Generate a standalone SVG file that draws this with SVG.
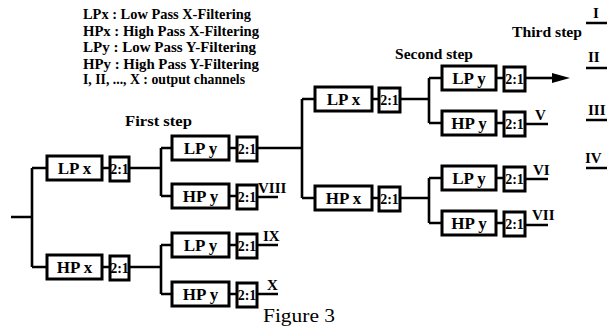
<svg xmlns="http://www.w3.org/2000/svg" width="607" height="330" viewBox="0 0 607 330">
<style>
.box{fill:#fff;stroke:#000;stroke-width:3}
.w{fill:none;stroke:#000;stroke-width:2.6}
.t{font-family:"Liberation Serif","Times New Roman",serif;font-weight:bold;fill:#000}
.bl{font-size:17px;text-anchor:middle}
.ds{font-size:14px;text-anchor:middle}
.lg{font-size:14.5px}
.hd{font-size:14px}
.out{font-size:15px}
</style>
<rect width="607" height="330" fill="#fff"/>
<g id="legend" class="t lg">
<text x="83" y="19" textLength="168" lengthAdjust="spacingAndGlyphs">LPx : Low Pass X-Filtering</text>
<text x="83" y="35.5" textLength="176" lengthAdjust="spacingAndGlyphs">HPx : High Pass X-Filtering</text>
<text x="83" y="52" textLength="173" lengthAdjust="spacingAndGlyphs">LPy : Low Pass Y-Filtering</text>
<text x="83" y="68.5" textLength="176" lengthAdjust="spacingAndGlyphs">HPy : High Pass Y-Filtering</text>
<text x="83" y="84" textLength="162" lengthAdjust="spacingAndGlyphs">I, II, ..., X : output channels</text>
</g>
<g id="headings" class="t hd">
<text x="125" y="126" textLength="67" lengthAdjust="spacingAndGlyphs">First step</text>
<text x="395" y="59" textLength="78" lengthAdjust="spacingAndGlyphs">Second step</text>
<text x="512" y="37" textLength="70" lengthAdjust="spacingAndGlyphs">Third step</text>
</g>
<g id="connectors" class="w">
<path d="M11,217H32M32,168V267M32,168H47M32,267H47"/>
<path d="M102,168H110M102,267H110"/>
<path d="M129,168H161M161,148V196M161,148H172M161,196H172"/>
<path d="M129,267H161M161,245V294M161,245H172M161,294H172"/>
<path d="M229,148H237M229,196H237M229,245H237M229,294H237"/>
<path d="M257,148H302M302,99V198M302,99H315M302,198H315"/>
<path d="M257,197H278M257,245H278M257,294H278"/>
<path d="M372,99H379M372,198H379"/>
<path d="M400,99H429M429,78V123M429,78H442M429,123H442"/>
<path d="M400,198H429M429,178V223M429,178H442M429,223H442"/>
<path d="M496,78H504M496,123H504M496,178H504M496,223H504"/>
<path d="M525,78H554"/>
<polygon points="552,73 570,78 552,83" fill="#000" stroke="none"/>
<path d="M525,124H548M525,179H548M525,225H548"/>
<path d="M586,23H607M586,68H607M586,120H607M586,168H607"/>
</g>
<g id="lpx0"><rect class="box" x="47" y="156" width="55" height="24"/><text class="t bl" x="74.5" y="174">LP x</text></g>
<g id="ds-lpx0"><rect class="box" x="110" y="157" width="19" height="24"/><text class="t ds" x="119.5" y="174">2:1</text></g>
<g id="hpx0"><rect class="box" x="47" y="255" width="55" height="24"/><text class="t bl" x="74.5" y="273">HP x</text></g>
<g id="ds-hpx0"><rect class="box" x="110" y="256" width="19" height="24"/><text class="t ds" x="119.5" y="273">2:1</text></g>
<g id="lpy1a"><rect class="box" x="172" y="136" width="57" height="24"/><text class="t bl" x="200.5" y="154">LP y</text></g>
<g id="ds-lpy1a"><rect class="box" x="237" y="137" width="20" height="24"/><text class="t ds" x="247" y="154">2:1</text></g>
<g id="hpy1a"><rect class="box" x="172" y="184" width="57" height="24"/><text class="t bl" x="200.5" y="202">HP y</text></g>
<g id="ds-hpy1a"><rect class="box" x="237" y="185" width="20" height="24"/><text class="t ds" x="247" y="202">2:1</text></g>
<g id="lpy1b"><rect class="box" x="172" y="233" width="57" height="24"/><text class="t bl" x="200.5" y="251">LP y</text></g>
<g id="ds-lpy1b"><rect class="box" x="237" y="234" width="20" height="24"/><text class="t ds" x="247" y="251">2:1</text></g>
<g id="hpy1b"><rect class="box" x="172" y="282" width="57" height="24"/><text class="t bl" x="200.5" y="300">HP y</text></g>
<g id="ds-hpy1b"><rect class="box" x="237" y="283" width="20" height="24"/><text class="t ds" x="247" y="300">2:1</text></g>
<g id="lpx2"><rect class="box" x="315" y="87" width="57" height="24"/><text class="t bl" x="343.5" y="105">LP x</text></g>
<g id="ds-lpx2"><rect class="box" x="379" y="88" width="21" height="24"/><text class="t ds" x="389.5" y="105">2:1</text></g>
<g id="hpx2"><rect class="box" x="315" y="186" width="57" height="24"/><text class="t bl" x="343.5" y="204">HP x</text></g>
<g id="ds-hpx2"><rect class="box" x="379" y="187" width="21" height="24"/><text class="t ds" x="389.5" y="204">2:1</text></g>
<g id="lpy3a"><rect class="box" x="442" y="66" width="54" height="24"/><text class="t bl" x="469" y="84">LP y</text></g>
<g id="ds-lpy3a"><rect class="box" x="504" y="67" width="21" height="24"/><text class="t ds" x="514.5" y="84">2:1</text></g>
<g id="hpy3a"><rect class="box" x="442" y="111" width="54" height="24"/><text class="t bl" x="469" y="129">HP y</text></g>
<g id="ds-hpy3a"><rect class="box" x="504" y="112" width="21" height="24"/><text class="t ds" x="514.5" y="129">2:1</text></g>
<g id="lpy3b"><rect class="box" x="442" y="166" width="54" height="24"/><text class="t bl" x="469" y="184">LP y</text></g>
<g id="ds-lpy3b"><rect class="box" x="504" y="167" width="21" height="24"/><text class="t ds" x="514.5" y="184">2:1</text></g>
<g id="hpy3b"><rect class="box" x="442" y="211" width="54" height="24"/><text class="t bl" x="469" y="229">HP y</text></g>
<g id="ds-hpy3b"><rect class="box" x="504" y="212" width="21" height="24"/><text class="t ds" x="514.5" y="229">2:1</text></g>
<g id="outputs" class="t out">
<text x="593" y="18">I</text>
<text x="588" y="62">II</text>
<text x="588" y="115">III</text>
<text x="585" y="163">IV</text>
<text x="535" y="120">V</text>
<text x="533" y="175">VI</text>
<text x="532" y="220">VII</text>
<text x="258" y="193">VIII</text>
<text x="263" y="241">IX</text>
<text x="267" y="290">X</text>
</g>
<text x="263" y="322" textLength="72" lengthAdjust="spacingAndGlyphs" style="font-family:'Liberation Serif','Times New Roman',serif;font-size:19px">Figure 3</text>
</svg>
